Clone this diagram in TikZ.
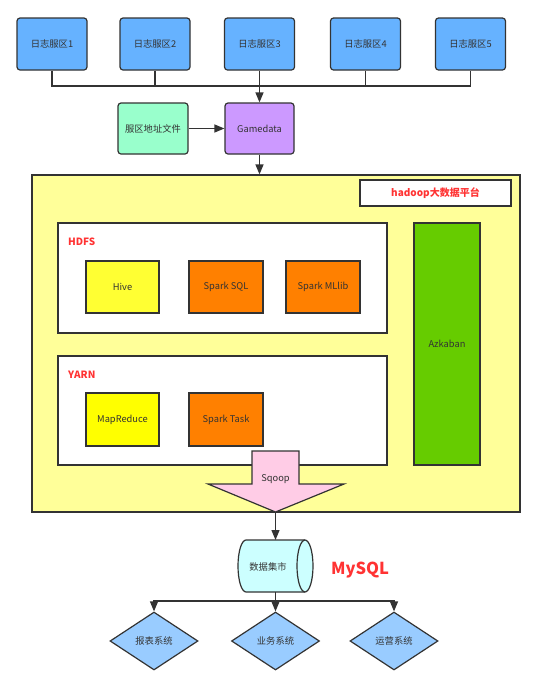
\documentclass[tikz,border=0pt]{standalone}
\usepackage{fontspec}
\setmainfont{Noto Sans CJK SC}
\usetikzlibrary{arrows.meta,shapes.geometric}
\definecolor{strokec}{HTML}{333333}
\definecolor{topblue}{HTML}{66B2FF}
\definecolor{filegreen}{HTML}{99FFCC}
\definecolor{gdpurple}{HTML}{CC99FF}
\definecolor{bigyellow}{HTML}{FFFF99}
\definecolor{hiveyellow}{HTML}{FFFF33}
\definecolor{mryellow}{HTML}{FFFF00}
\definecolor{sparkorange}{HTML}{FF8000}
\definecolor{azgreen}{HTML}{66CC00}
\definecolor{sqpink}{HTML}{FFCCE6}
\definecolor{cylcyan}{HTML}{CCFFFF}
\definecolor{diablue}{HTML}{99CCFF}
\definecolor{labred}{HTML}{FF3333}
\tikzset{
  base/.style={draw=strokec, line width=1.2pt, text=strokec, font=\fontsize{9.3}{11}\selectfont, inner sep=0pt, align=center},
  rbox/.style={base, rounded corners=3pt},
  sbox/.style={base},
  conn/.style={draw=strokec, line width=1.2pt},
  arr/.style={conn, -{Triangle[length=10pt,width=8pt]}},
  redlab/.style={text=labred, font=\fontsize{10}{12}\selectfont\bfseries, inner sep=0pt},
  dia/.style={base, diamond, fill=diablue, minimum width=88pt, minimum height=58pt, aspect=1.5}
}
\begin{document}
\begin{tikzpicture}[x=1pt,y=-1pt]
\useasboundingbox[fill=white] (0,0) rectangle (554,689);
% top servers
\foreach \i/\x in {1/52,2/155,3/259.5,4/365.5,5/470.5}{
  \node[rbox, fill=topblue, minimum width=70pt, minimum height=52pt] (t\i) at (\x,44) {日志服区\i};
}
\coordinate (bus) at (259.5,86);
\node[rbox, fill=filegreen, minimum width=70pt, minimum height=51pt] (file) at (153,128.5) {服区地址文件};
\node[rbox, fill=gdpurple, minimum width=69pt, minimum height=51pt] (gd) at (259.5,128.5) {Gamedata};
\draw[conn] (t1.south) |- (t5.south |- bus) -- (t5.south);
\draw[conn] (t2.south) -- (t2.south |- bus);
\draw[conn] (t4.south) -- (t4.south |- bus);
\draw[arr] (t3.south) -- (gd.north);
\draw[arr] (file.east) -- (gd.west);
% big platform
\node[sbox, fill=bigyellow, minimum width=488pt, minimum height=337pt] (big) at (276,343.5) {};
\draw[arr] (gd.south) -- (gd.south |- big.north);
\node[sbox, fill=white, minimum width=151pt, minimum height=26pt] (hlab) at (435.5,193) {};
\node[redlab] at (hlab.center) {hadoop大数据平台};
% HDFS
\node[sbox, fill=white, minimum width=329pt, minimum height=110pt] (hdfs) at (222.5,278) {};
\node[redlab, anchor=west] (hdfslab) at (68,242) {HDFS};
\node[sbox, fill=hiveyellow, minimum width=73pt, minimum height=52pt] (hive) at (122.5,287) {Hive};
\node[sbox, fill=sparkorange, minimum width=74pt, minimum height=52pt] (ssql) at (226,287) {Spark SQL};
\node[sbox, fill=sparkorange, minimum width=74pt, minimum height=52pt] (smllib) at (323,287) {Spark MLlib};
% Azkaban
\node[sbox, fill=azgreen, minimum width=66pt, minimum height=242pt] (azk) at (447,344) {Azkaban};
% YARN
\node[sbox, fill=white, minimum width=329pt, minimum height=109pt] (yarn) at (222.5,410.5) {};
\node[redlab, anchor=west] (yarnlab) at (68,375) {YARN};
\node[sbox, fill=mryellow, minimum width=73pt, minimum height=53pt] (mr) at (122.5,419.5) {MapReduce};
\node[sbox, fill=sparkorange, minimum width=74pt, minimum height=53pt] (stask) at (226,419.5) {Spark Task};
% Sqoop arrow
\filldraw[fill=sqpink, draw=strokec, line width=1.2pt, line join=miter]
  (252,451) -- (299,451) -- (299,484) -- (344,484) -- (275.5,512) -- (208,484) -- (252,484) -- cycle;
\node[base, draw=none] (sqoop) at (275.5,479) {Sqoop};
\coordinate (sqtip) at (275.5,512);
% cylinder
\filldraw[fill=cylcyan, draw=strokec, line width=1.2pt]
  (305,540) -- (246,540) arc[start angle=-90, end angle=-270, x radius=8, y radius=26]
  -- (305,592) arc[start angle=90, end angle=-90, x radius=8, y radius=26];
\draw[conn] (305,540) arc[start angle=-90, end angle=-270, x radius=8, y radius=26];
\node[base, draw=none] (mart) at (268,567) {数据集市};
\coordinate (cyltop) at (275.5,540);
\coordinate (cylbot) at (275.5,592);
\draw[arr] (sqtip) -- (cyltop);
\node[text=labred, font=\fontsize{16.5}{18}\selectfont\bfseries, inner sep=0pt] (mysql) at (360,570) {MySQL};
% diamonds
\node[dia] (d1) at (154,641) {报表系统};
\node[dia] (d2) at (275.5,641) {业务系统};
\node[dia] (d3) at (394,641) {运营系统};
\coordinate (bbus) at (275.5,601);
\draw[arr] (cylbot) -- (d2.north);
\draw[arr] (bbus) -| (d1.north);
\draw[arr] (bbus) -| (d3.north);
\end{tikzpicture}
\end{document}
